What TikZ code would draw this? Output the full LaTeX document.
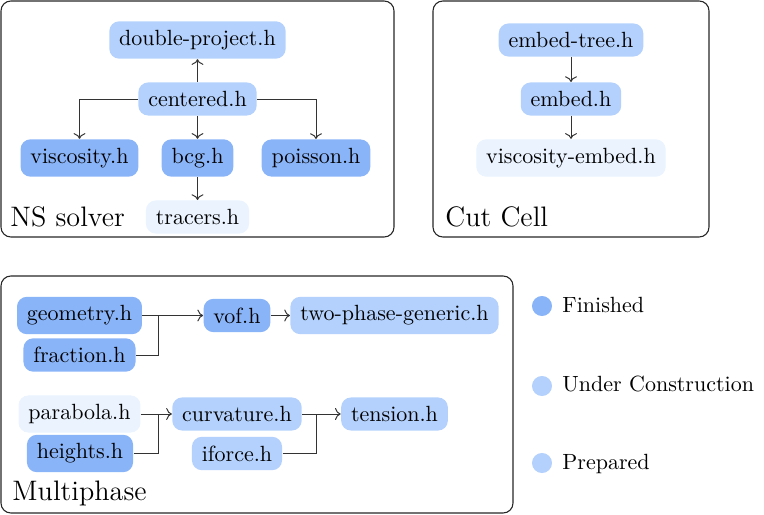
\documentclass[tikz,border=0pt]{standalone}
\usetikzlibrary{arrows.meta}
\definecolor{fin}{RGB}{138,180,248}
\definecolor{under}{RGB}{179,209,252}
\definecolor{prep}{RGB}{234,243,254}
\begin{document}
\begin{tikzpicture}[x=0.4545pt,y=-0.4545pt,
  file/.style={rounded corners=4.5pt, inner xsep=4.5pt, inner ysep=4pt, font=\fontsize{10}{12}\selectfont},
  finished/.style={file, fill=fin},
  underc/.style={file, fill=under},
  prepared/.style={file, fill=prep},
  frame/.style={draw=black!85, line width=0.5pt, rounded corners=4.5pt},
  grouplabel/.style={anchor=base west, inner sep=0pt, font=\fontsize{12.8}{15}\selectfont},
  dep/.style={draw=black!80, line width=0.45pt, ->},
  link/.style={draw=black!80, line width=0.45pt},
  dot/.style={circle, inner sep=0pt, minimum size=9.1pt},
  legendtext/.style={anchor=base west, inner sep=0pt, font=\fontsize{10}{12}\selectfont}]
\useasboundingbox (0,0) rectangle (764,515);
% frames
\draw[frame] (1,1) rectangle (394,237);
\draw[frame] (433,1) rectangle (709,237);
\draw[frame] (1,276) rectangle (513,513);
\node[grouplabel] (lns) at (10,227) {NS solver};
\node[grouplabel] (lcc) at (445,227) {Cut Cell};
\node[grouplabel] (lmp) at (12,500) {Multiphase};
% NS solver
\node[underc] (dp) at (197.5,40) {double-project.h};
\node[underc] (cen) at (197.5,99) {centered.h};
\node[finished] (visc) at (79.5,158) {viscosity.h};
\node[finished] (bcg) at (197.5,158) {bcg.h};
\node[finished] (poi) at (316,158) {poisson.h};
\node[prepared] (tra) at (197.5,217) {tracers.h};
\draw[dep] (cen) -- (dp);
\draw[dep] (cen) -- (bcg);
\draw[dep] (cen.west) -| (visc.north);
\draw[dep] (cen.east) -| (poi.north);
\draw[dep] (bcg) -- (tra);
% Cut cell
\node[underc] (et) at (571,40) {embed-tree.h};
\node[underc] (emb) at (571,99) {embed.h};
\node[prepared] (ve) at (571,158) {viscosity-embed.h};
\draw[dep] (et) -- (emb);
\draw[dep] (emb) -- (ve);
% Multiphase
\node[finished] (geo) at (79.5,315.5) {geometry.h};
\node[finished] (fra) at (79.5,355) {fraction.h};
\node[finished] (vof) at (237,315.5) {vof.h};
\node[underc] (tpg) at (394.5,315.5) {two-phase-generic.h};
\node[prepared] (par) at (79.5,414) {parabola.h};
\node[finished] (hei) at (80,453.5) {heights.h};
\node[underc] (cur) at (237,414) {curvature.h};
\node[underc] (ifo) at (237,453.5) {iforce.h};
\node[underc] (ten) at (394.5,414) {tension.h};
\coordinate (j1) at (158,315.5);
\coordinate (j2) at (158,414);
\coordinate (j3) at (316,414);
\draw[dep] (geo) -- (vof);
\draw[link] (fra.east) -| (j1);
\draw[dep] (vof) -- (tpg);
\draw[dep] (par) -- (cur);
\draw[link] (hei.east) -| (j2);
\draw[dep] (cur) -- (ten);
\draw[link] (ifo.east) -| (j3);
% legend
\node[dot, fill=fin] (d1) at (542,306) {};
\node[dot, fill=under] (d2) at (542,386) {};
\node[dot, fill=under] (d3) at (542,463) {};
\node[legendtext] (t1) at (562,313) {Finished};
\node[legendtext] (t2) at (562,392) {Under Construction};
\node[legendtext] (t3) at (562,469) {Prepared};
\end{tikzpicture}
\end{document}
